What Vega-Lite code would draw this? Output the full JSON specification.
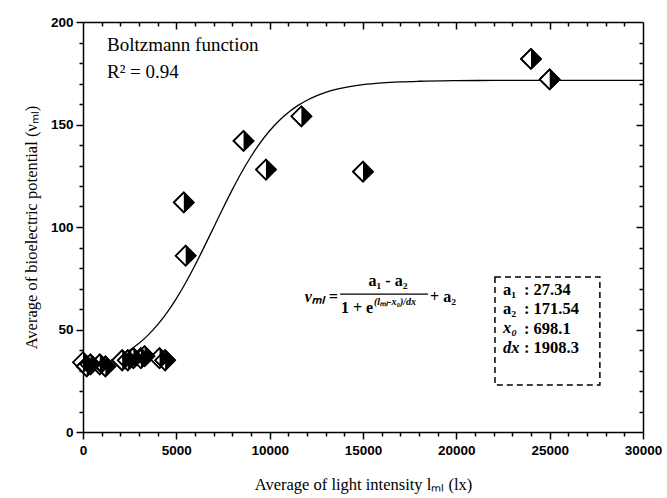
{
  "$schema": "https://vega.github.io/schema/vega-lite/v6.json",
  "width": 560,
  "height": 410,
  "autosize": "none",
  "padding": {"left": 83, "top": 22, "right": 24, "bottom": 66},
  "background": "white",
  "data": {"values": [{"k": 1}]},
  "config": {
    "view": {"stroke": null},
    "axis": {"grid": false, "domainColor": "black", "tickColor": "black", "labelColor": "black", "titleColor": "black", "domainWidth": 1.5, "tickWidth": 1.5}
  },
  "datasets": {
    "pts": [
      {"x": 0, "y": 34}, {"x": 200, "y": 32}, {"x": 400, "y": 33}, {"x": 900, "y": 33}, {"x": 1200, "y": 32},
      {"x": 2100, "y": 35}, {"x": 2400, "y": 35}, {"x": 2700, "y": 36}, {"x": 3100, "y": 36}, {"x": 3300, "y": 37},
      {"x": 4100, "y": 36}, {"x": 4400, "y": 35},
      {"x": 5400, "y": 112}, {"x": 5500, "y": 86}, {"x": 8600, "y": 142}, {"x": 9800, "y": 128},
      {"x": 11700, "y": 154}, {"x": 15000, "y": 127}, {"x": 24000, "y": 182}, {"x": 25000, "y": 172}
    ],
    "fit": [
      {"x": 1500, "y": 35.06}, {"x": 2000, "y": 37.21}, {"x": 2500, "y": 39.91}, {"x": 3000, "y": 43.27},
      {"x": 3500, "y": 47.38}, {"x": 4000, "y": 52.34}, {"x": 4500, "y": 58.22}, {"x": 5000, "y": 65.05},
      {"x": 5500, "y": 72.79}, {"x": 6000, "y": 81.31}, {"x": 6500, "y": 90.41}, {"x": 7000, "y": 99.8},
      {"x": 7500, "y": 109.19}, {"x": 8000, "y": 118.24}, {"x": 8500, "y": 126.71}, {"x": 9000, "y": 134.38},
      {"x": 9500, "y": 141.14}, {"x": 10000, "y": 146.95}, {"x": 10500, "y": 151.85}, {"x": 11000, "y": 155.89},
      {"x": 11500, "y": 159.19}, {"x": 12000, "y": 161.85}, {"x": 12500, "y": 163.96}, {"x": 13000, "y": 165.64},
      {"x": 13500, "y": 166.96}, {"x": 14000, "y": 167.99}, {"x": 15000, "y": 169.41}, {"x": 16000, "y": 170.27},
      {"x": 17000, "y": 170.79}, {"x": 18000, "y": 171.09}, {"x": 20000, "y": 171.38}, {"x": 22000, "y": 171.49},
      {"x": 25000, "y": 171.53}, {"x": 30000, "y": 171.54}
    ]
  },
  "resolve": {"axis": {"x": "independent", "y": "independent"}},
  "layer": [
    {
      "data": {"name": "fit"},
      "mark": {"type": "line", "color": "black", "strokeWidth": 1.3, "interpolate": "monotone"},
      "encoding": {
        "x": {"field": "x", "type": "quantitative", "scale": {"domain": [0, 30000], "nice": false, "zero": false},
          "axis": {"orient": "bottom", "values": [0, 5000, 10000, 15000, 20000, 25000, 30000], "tickSize": 7, "labelPadding": 4,
            "labelFont": "Liberation Sans", "labelFontWeight": "bold", "labelFontSize": 13.5, "labelFlush": false, "labelOverlap": false, "format": "d",
            "title": "Average of light intensity lₘₗ (lx)", "titleFont": "Liberation Serif", "titleFontSize": 16.5, "titleFontWeight": "normal", "titlePadding": 20}},
        "y": {"field": "y", "type": "quantitative", "scale": {"domain": [0, 200], "nice": false, "zero": false},
          "axis": {"orient": "left", "values": [0, 50, 100, 150, 200], "tickSize": 7, "labelPadding": 3,
            "labelFont": "Liberation Sans", "labelFontWeight": "bold", "labelFontSize": 13.5, "labelFlush": false, "labelOverlap": false,
            "title": "Average of bioelectric potential (νₘₗ)", "titleFont": "Liberation Serif", "titleFontSize": 16.5, "titleFontWeight": "normal", "titlePadding": 11}}
      }
    },
    {
      "data": {"name": "pts"},
      "mark": {"type": "point", "shape": "diamond", "filled": true, "fill": "white", "stroke": "black", "strokeWidth": 1.6, "size": 400, "opacity": 1},
      "encoding": {
        "x": {"field": "x", "type": "quantitative",
          "axis": {"orient": "bottom", "values": [1000,2000,3000,4000,6000,7000,8000,9000,11000,12000,13000,14000,16000,17000,18000,19000,21000,22000,23000,24000,26000,27000,28000,29000], "tickSize": 4, "labels": false, "domain": false, "title": null}},
        "y": {"field": "y", "type": "quantitative",
          "axis": {"orient": "left", "values": [10,20,30,40,60,70,80,90,110,120,130,140,160,170,180,190], "tickSize": 4, "labels": false, "domain": false, "title": null}}
      }
    },
    {
      "data": {"name": "pts"},
      "mark": {"type": "point", "shape": "M0,-1L1,0L0,1Z", "filled": true, "fill": "black", "strokeWidth": 0, "size": 400, "opacity": 1},
      "encoding": {
        "x": {"field": "x", "type": "quantitative",
          "axis": {"orient": "top", "offset": -4, "values": [1000,2000,3000,4000,6000,7000,8000,9000,11000,12000,13000,14000,16000,17000,18000,19000,21000,22000,23000,24000,26000,27000,28000,29000], "tickSize": 4, "labels": false, "domain": false, "title": null}},
        "y": {"field": "y", "type": "quantitative",
          "axis": {"orient": "right", "offset": -4, "values": [10,20,30,40,60,70,80,90,110,120,130,140,160,170,180,190], "tickSize": 4, "labels": false, "domain": false, "title": null}}
      }
    },
    {
      "data": {"name": "pts"},
      "mark": {"type": "point", "shape": "diamond", "filled": false, "stroke": "black", "strokeWidth": 1.6, "size": 400, "opacity": 1},
      "encoding": {
        "x": {"field": "x", "type": "quantitative",
          "axis": {"orient": "top", "offset": -7, "values": [5000, 10000, 15000, 20000, 25000], "tickSize": 7, "labels": false, "domain": false, "title": null}},
        "y": {"field": "y", "type": "quantitative",
          "axis": {"orient": "right", "offset": -7, "values": [50, 100, 150], "tickSize": 7, "labels": false, "domain": false, "title": null}}
      }
    },
    {
      "mark": {"type": "text", "align": "left", "baseline": "middle", "font": "Liberation Serif", "fontSize": 19, "text": "Boltzmann function"},
      "encoding": {
        "x": {"datum": 1285, "type": "quantitative", "axis": {"orient": "top", "ticks": false, "labels": false, "domain": true, "title": null}},
        "y": {"datum": 188.8, "type": "quantitative", "axis": {"orient": "right", "ticks": false, "labels": false, "domain": true, "title": null}}
      }
    },
    {
      "mark": {"type": "text", "align": "left", "baseline": "middle", "font": "Liberation Serif", "fontSize": 19, "text": "R² = 0.94"},
      "encoding": {"x": {"datum": 1285, "type": "quantitative", "axis": null}, "y": {"datum": 175.6, "type": "quantitative", "axis": null}}
    },
    {
      "mark": {"type": "text", "align": "right", "baseline": "middle", "font": "Liberation Serif", "fontSize": 16, "fontWeight": "bold", "fontStyle": "italic", "text": "νₘₗ ="},
      "encoding": {"x": {"datum": 13660, "type": "quantitative", "axis": null}, "y": {"datum": 66, "type": "quantitative", "axis": null}}
    },
    {
      "mark": {"type": "text", "align": "center", "baseline": "middle", "font": "Liberation Serif", "fontSize": 16, "fontWeight": "bold", "text": "a₁ - a₂"},
      "encoding": {"x": {"datum": 16340, "type": "quantitative", "axis": null}, "y": {"datum": 73.7, "type": "quantitative", "axis": null}}
    },
    {
      "mark": {"type": "rule", "color": "black", "strokeWidth": 1.2},
      "encoding": {"x": {"datum": 13770, "type": "quantitative", "axis": null}, "x2": {"datum": 18480}, "y": {"datum": 67.3, "type": "quantitative", "axis": null}}
    },
    {
      "mark": {"type": "text", "align": "left", "baseline": "middle", "font": "Liberation Serif", "fontSize": 16, "fontWeight": "bold", "text": "1 + e"},
      "encoding": {"x": {"datum": 13820, "type": "quantitative", "axis": null}, "y": {"datum": 60.5, "type": "quantitative", "axis": null}}
    },
    {
      "mark": {"type": "text", "align": "left", "baseline": "middle", "font": "Liberation Serif", "fontSize": 10, "fontWeight": "bold", "fontStyle": "italic", "text": "(lₘₗ-x₀)/dx"},
      "encoding": {"x": {"datum": 15590, "type": "quantitative", "axis": null}, "y": {"datum": 63.6, "type": "quantitative", "axis": null}}
    },
    {
      "mark": {"type": "text", "align": "left", "baseline": "middle", "font": "Liberation Serif", "fontSize": 16, "fontWeight": "bold", "text": "+ a₂"},
      "encoding": {"x": {"datum": 18590, "type": "quantitative", "axis": null}, "y": {"datum": 66, "type": "quantitative", "axis": null}}
    },
    {
      "mark": {"type": "rect", "fill": "white", "fillOpacity": 0, "stroke": "black", "strokeWidth": 1.5, "strokeDash": [6, 4]},
      "encoding": {"x": {"datum": 22070, "type": "quantitative", "axis": null}, "x2": {"datum": 27690}, "y": {"datum": 75.6, "type": "quantitative", "axis": null}, "y2": {"datum": 22.9}}
    },
    {
      "mark": {"type": "text", "align": "left", "baseline": "top", "font": "Liberation Serif", "fontSize": 16.5, "fontWeight": "bold", "lineHeight": 19.3, "text": ["a₁", "a₂"]},
      "encoding": {"x": {"datum": 22500, "type": "quantitative", "axis": null}, "y": {"datum": 73.2, "type": "quantitative", "axis": null}}
    },
    {
      "mark": {"type": "text", "align": "left", "baseline": "top", "font": "Liberation Serif", "fontSize": 16.5, "fontWeight": "bold", "fontStyle": "italic", "lineHeight": 19.3, "text": ["x₀", "dx"]},
      "encoding": {"x": {"datum": 22500, "type": "quantitative", "axis": null}, "y": {"datum": 54.4, "type": "quantitative", "axis": null}}
    },
    {
      "mark": {"type": "text", "align": "left", "baseline": "top", "font": "Liberation Serif", "fontSize": 16.5, "fontWeight": "bold", "lineHeight": 19.3, "text": [": 27.34", ": 171.54", ": 698.1", ": 1908.3"]},
      "encoding": {"x": {"datum": 23620, "type": "quantitative", "axis": null}, "y": {"datum": 73.2, "type": "quantitative", "axis": null}}
    }
  ]
}
